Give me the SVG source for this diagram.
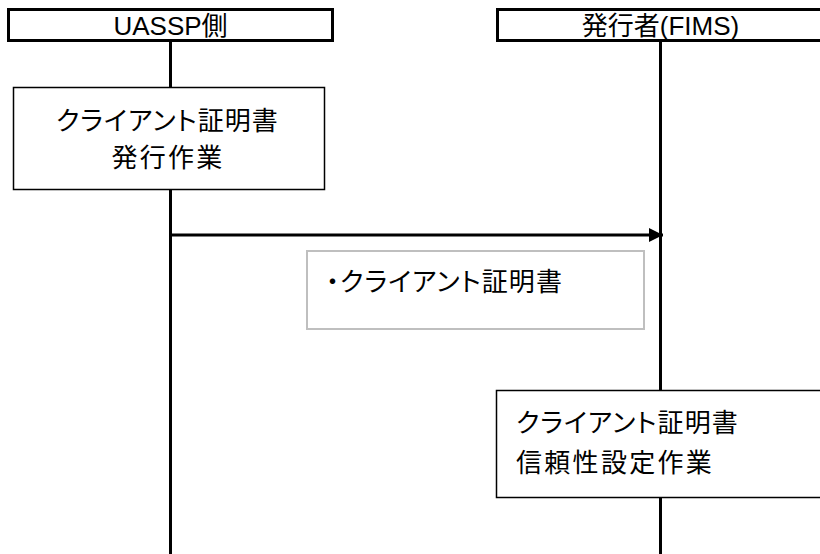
<svg xmlns="http://www.w3.org/2000/svg" width="820" height="554" viewBox="0 0 820 554">
<style>
.hdr{fill:#fff;stroke:#000;stroke-width:3}
.life{stroke:#000;stroke-width:3;fill:none}
.box{fill:#fff;stroke:#000;stroke-width:1.5}
.note{fill:#fff;stroke:#bfbfbf;stroke-width:2}
.t{font-family:"Liberation Sans","Noto Sans CJK JP",sans-serif;font-size:26px;fill:#000}
.p{font-feature-settings:"palt";letter-spacing:1.1px}
.k{letter-spacing:2.3px}
.msg{stroke:#000;stroke-width:3;fill:none}
</style>
<defs>
<marker id="ah" markerWidth="14" markerHeight="14" refX="14" refY="7" orient="auto" markerUnits="userSpaceOnUse">
<path d="M0,0 L14,7 L0,14 Z" fill="#000"/>
</marker>
</defs>
<g id="lifelines">
<line class="life" x1="170.5" y1="41" x2="170.5" y2="554"/>
<line class="life" x1="660.5" y1="41" x2="660.5" y2="554"/>
</g>
<g id="header-uassp">
<rect class="hdr" x="8.5" y="9.5" width="324" height="31"/>
<text class="t" x="170.5" y="35" text-anchor="middle">UASSP側</text>
</g>
<g id="header-fims">
<rect class="hdr" x="497.5" y="9.5" width="340" height="31"/>
<text class="t" x="660.5" y="35" text-anchor="middle">発行者(FIMS)</text>
</g>
<g id="issue-work">
<rect class="box" x="13.5" y="87.5" width="311" height="102"/>
<text class="t p" x="167.5" y="130" text-anchor="middle">クライアント証明書</text>
<text class="t k" x="168" y="167" text-anchor="middle">発行作業</text>
</g>
<g id="connectors">
<line class="msg" x1="170.5" y1="235" x2="663" y2="235" marker-end="url(#ah)"/>
</g>
<g id="message-note">
<rect class="note" x="307" y="251" width="337" height="78"/>
<text class="t p" x="326" y="291">・クライアント証明書</text>
</g>
<g id="trust-work">
<rect class="box" x="496.5" y="390.5" width="340" height="107"/>
<text class="t p" x="516" y="432">クライアント証明書</text>
<text class="t k" x="516" y="472">信頼性設定作業</text>
</g>
</svg>
